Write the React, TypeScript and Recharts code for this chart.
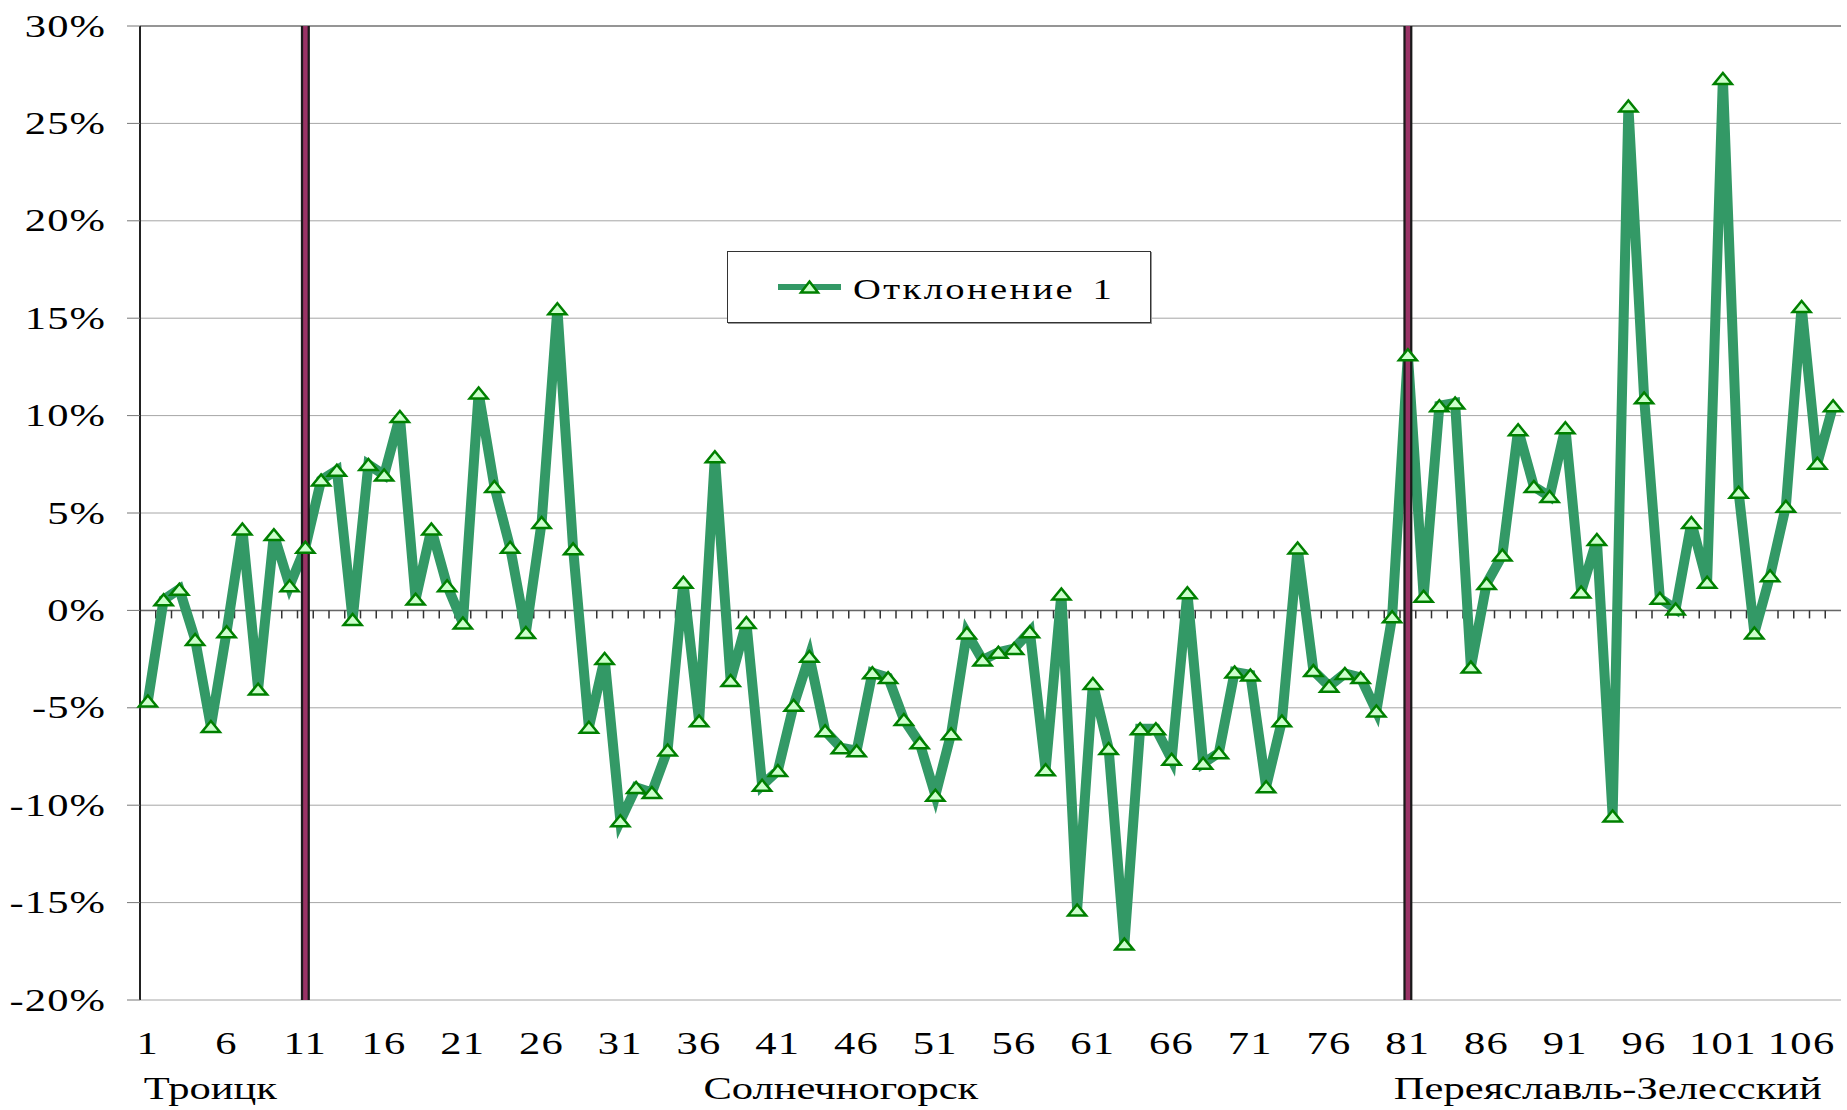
import React from 'react';
import { LineChart, Line, XAxis, YAxis, CartesianGrid, ReferenceLine, Legend } from 'recharts';

const seriesName = 'Отклонение 1';

// deviation values, percent, points 1..108
const deviation = [
  -4.65, 0.55, 1.09, -1.49, -5.96, -1.09, 4.18, -4.04, 3.89, 1.27,
  3.24, 6.69, 7.2, -0.47, 7.49, 6.95, 9.96, 0.58, 4.18, 1.27,
  -0.65, 11.16, 6.36, 3.24, -1.13, 4.51, 15.49, 3.16, -6.0, -2.47,
  -10.8, -9.09, -9.35, -7.16, 1.45, -5.67, 7.89, -3.6, -0.62, -8.98,
  -8.22, -4.87, -2.36, -6.18, -7.05, -7.2, -3.2, -3.45, -5.6, -6.8,
  -9.49, -6.33, -1.16, -2.55, -2.15, -1.96, -1.09, -8.18, 0.84, -15.38,
  -3.75, -7.09, -17.13, -6.07, -6.07, -7.64, 0.91, -7.85, -7.31, -3.16,
  -3.31, -9.05, -5.67, 3.2, -3.09, -3.89, -3.24, -3.45, -5.16, -0.33,
  13.13, 0.73, 10.51, 10.65, -2.91, 1.38, 2.84, 9.27, 6.36, 5.85,
  9.38, 0.95, 3.64, -10.55, 25.89, 10.91, 0.62, 0.07, 4.51, 1.45,
  27.31, 6.07, -1.16, 1.78, 5.35, 15.6, 7.56, 10.51,
];

const categories = deviation.map((_, i) => i + 1);
const xTickLabels = [1, 6, 11, 16, 21, 26, 31, 36, 41, 46, 51, 56, 61, 66, 71, 76, 81, 86, 91, 96, 101, 106];
const yTicks = [-20, -15, -10, -5, 0, 5, 10, 15, 20, 25, 30];
const dividers = [11, 81];
const groups = [
  { at: 1, label: 'Троицк', anchor: 'start', dx: -4 },
  { at: 45, label: 'Солнечногорск', anchor: 'middle', dx: 0 },
  { at: 81, label: 'Переяславль-Зелесский', anchor: 'start', dx: -14 },
];

const data = categories.map((n, i) => ({ n, v: deviation[i] }));

const FONT = "'Liberation Serif', 'Times New Roman', serif";
const SX = 1.33;
const LINE = '#339966';

const stretch = (x: number, y: number) => `translate(${x} ${y}) scale(${SX} 1) translate(${-x} ${-y})`;

const YTick = (props: any) => {
  const { x, y, payload } = props;
  return (
    <text x={x} y={y} dy="0.33em" textAnchor="end" fontFamily={FONT} fontSize={32} letterSpacing={0.8} fill="#000" transform={stretch(x, y)}>
      {`${payload.value}%`}
    </text>
  );
};

const XTick = (props: any) => {
  const { x, y, payload } = props;
  const n = payload.value;
  const g = groups.find((gg) => gg.at === n);
  return (
    <g>
      {xTickLabels.includes(n) && (
        <text x={x} y={y + 54} textAnchor="middle" fontFamily={FONT} fontSize={32} letterSpacing={1} fill="#000" transform={stretch(x, y + 54)}>
          {n}
        </text>
      )}
      {g && (
        <text x={x + g.dx} y={y + 99} textAnchor={g.anchor} fontFamily={FONT} fontSize={32} fill="#000" transform={stretch(x + g.dx, y + 99)}>
          {g.label}
        </text>
      )}
    </g>
  );
};

const Tri = (props: any) => {
  const { cx, cy, index } = props;
  if (cx == null || cy == null) return <g key={index} />;
  return (
    <path
      key={index}
      d={`M${cx - 9} ${cy + 5.5} L${cx + 9} ${cy + 5.5} L${cx} ${cy - 5.5} Z`}
      fill="#ccffcc"
      stroke="#008000"
      strokeWidth={2.5}
      strokeLinejoin="miter"
    />
  );
};

const ZeroAxis = (props: any) => {
  const { x1, x2, y1 } = props;
  const n = deviation.length;
  const step = (x2 - x1) / n;
  const marks = [];
  for (let k = 1; k < n; k++) {
    marks.push(<line key={k} x1={x1 + k * step} x2={x1 + k * step} y1={y1} y2={y1 + 8} stroke="#333" strokeWidth={1.5} />);
  }
  return (
    <g>
      <line x1={x1} x2={x2} y1={y1} y2={y1} stroke="#666" strokeWidth={1.5} />
      {marks}
    </g>
  );
};

const LegendBox = () => (
  <div
    style={{
      width: 424,
      height: 72,
      boxSizing: 'border-box',
      border: '1.5px solid #333',
      boxShadow: '1px 1px 0 #999',
      background: '#fff',
      position: 'relative',
    }}
  >
    <svg width={70} height={20} style={{ position: 'absolute', left: 50, top: 25 }}>
      <line x1={0} x2={63} y1={10} y2={10} stroke={LINE} strokeWidth={6} />
      <path d="M23 15.5 L40 15.5 L31.5 4.5 Z" fill="#ccffcc" stroke="#008000" strokeWidth={2.5} />
    </svg>
    <span
      style={{
        position: 'absolute',
        left: 125,
        top: 23,
        fontFamily: FONT,
        fontSize: 29,
        lineHeight: '29px',
        letterSpacing: 1.8,
        wordSpacing: 4,
        transform: `scaleX(${SX})`,
        transformOrigin: 'left',
        whiteSpace: 'nowrap',
        color: '#000',
      }}
    >
      {seriesName}
    </span>
  </div>
);

export default function App() {
  return (
    <div style={{ position: 'absolute', left: 0, top: 0, background: '#fff' }}>
      <LineChart width={1847} height={1110} data={data} margin={{ top: 26, right: 6, bottom: 0, left: 0 }}>
        <CartesianGrid horizontal vertical={false} stroke="#a6a6a6" strokeWidth={1} />
        <XAxis
          dataKey="n"
          type="category"
          scale="band"
          interval={0}
          axisLine={false}
          tickLine={false}
          tickSize={0}
          tickMargin={0}
          height={110}
          tick={<XTick />}
        />
        <YAxis
          type="number"
          domain={[-20, 30]}
          ticks={yTicks}
          interval={0}
          width={140}
          tickSize={13}
          tickMargin={21}
          axisLine={{ stroke: '#222', strokeWidth: 2 }}
          tickLine={{ stroke: '#777' }}
          tick={<YTick />}
        />
        <ReferenceLine y={30} stroke="#808080" strokeWidth={1.5} />
        <ReferenceLine y={0} shape={<ZeroAxis />} />
        <Line
          type="linear"
          dataKey="v"
          name={seriesName}
          stroke={LINE}
          strokeWidth={10}
          dot={<Tri />}
          activeDot={false}
          isAnimationActive={false}
        />
        {dividers.map((d) => (
          <ReferenceLine key={`b${d}`} x={d} stroke="#1a1a1a" strokeWidth={9} />
        ))}
        {dividers.map((d) => (
          <ReferenceLine key={`m${d}`} x={d} stroke="#993366" strokeWidth={4.5} />
        ))}
        <Legend
          layout="horizontal"
          verticalAlign="middle"
          align="center"
          wrapperStyle={{ left: 727, top: 251, width: 424, height: 72 }}
          content={<LegendBox />}
        />
      </LineChart>
    </div>
  );
}
